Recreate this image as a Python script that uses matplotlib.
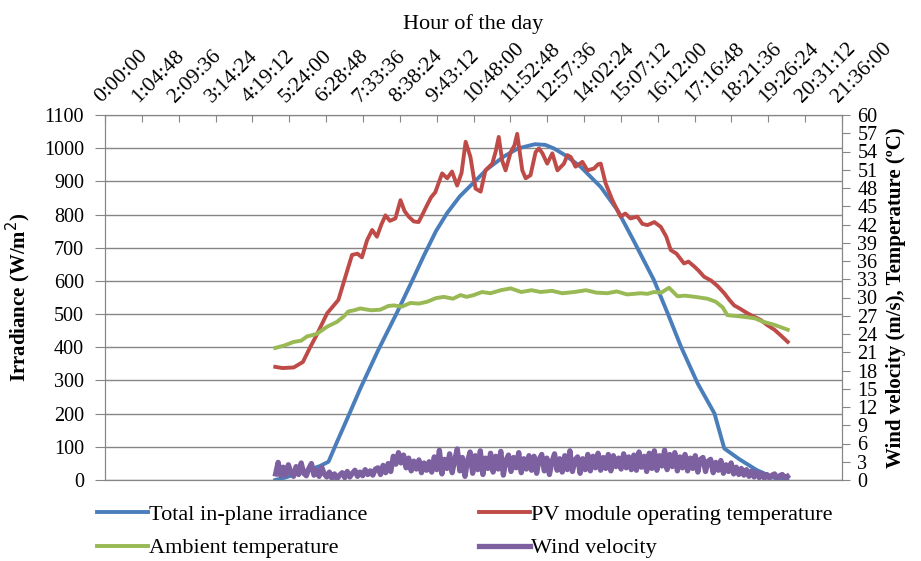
import matplotlib
matplotlib.use('Agg')
import matplotlib.pyplot as plt
import numpy as np

plt.rcParams['font.family'] = ['Liberation Serif', 'DejaVu Serif']

# horas do dia (eixo de cima)
tick_horas = [0, 1.08, 2.16, 3.24, 4.32, 5.4, 6.48, 7.56, 8.64, 9.72, 10.8,
              11.88, 12.96, 14.04, 15.12, 16.2, 17.28, 18.36, 19.44, 20.52, 21.6]
tick_labels = ['0:00:00', '1:04:48', '2:09:36', '3:14:24', '4:19:12', '5:24:00',
               '6:28:48', '7:33:36', '8:38:24', '9:43:12', '10:48:00', '11:52:48',
               '12:57:36', '14:02:24', '15:07:12', '16:12:00', '17:16:48', '18:21:36',
               '19:26:24', '20:31:12', '21:36:00']

# irradiancia total no plano (W/m2)
irr_h = [4.99, 5.3, 5.8, 6.3, 6.55, 6.8, 7.1, 7.48, 8.0, 8.56, 9.0, 9.34, 9.7,
         10.03, 10.4, 10.81, 11.2, 11.69, 12.1, 12.6, 12.9, 13.16, 13.5, 13.94,
         14.23, 14.53, 15.02, 15.5, 16.09, 16.5, 16.88, 17.37, 17.86, 18.0, 18.15,
         18.6, 19.1, 19.62, 20.0]
irr_v = [0, 8, 25, 42, 55, 115, 185, 275, 390, 505, 600, 675, 750,
         805, 855, 897, 937, 975, 999, 1012, 1010, 999, 978, 944,
         914, 883, 813, 720, 602, 500, 402, 291, 201, 150, 95,
         62, 30, 6, 5]

# temperatura do modulo PV (C)
pv_h = [4.99, 5.2, 5.53, 5.8, 6.02, 6.2, 6.51, 6.84, 7.05, 7.24, 7.4, 7.53, 7.68,
        7.83, 7.97, 8.1, 8.22, 8.35, 8.51, 8.66, 8.78, 8.90, 9.05, 9.19, 9.3,
        9.44, 9.56, 9.68, 9.88, 10.03, 10.17, 10.32, 10.45, 10.57, 10.71, 10.86,
        11.01, 11.15, 11.35, 11.45, 11.54, 11.64, 11.74, 11.89, 12.0, 12.08, 12.23,
        12.33, 12.47, 12.62, 12.72, 12.82, 12.96, 13.11, 13.26, 13.45, 13.55, 13.65,
        13.79, 13.99, 14.14, 14.33, 14.45, 14.53, 14.67, 14.87, 15.11, 15.25, 15.40,
        15.60, 15.75, 15.90, 16.1, 16.29, 16.45, 16.58, 16.75, 16.97, 17.1, 17.27,
        17.4, 17.56, 17.76, 17.95, 18.15, 18.3, 18.44, 18.6, 18.83, 19.0, 19.22,
        19.4, 19.62, 19.8, 20.01]
pv_v = [18.6, 18.4, 18.5, 19.4, 21.9, 23.8, 27.4, 29.6, 33.5, 37.0, 37.2, 36.6, 39.4,
        41.1, 40.0, 42.0, 43.5, 42.6, 43.0, 46.0, 44.2, 43.3, 42.5, 42.4, 43.6,
        45.2, 46.5, 47.3, 50.4, 49.6, 50.7, 48.4, 50.5, 55.6, 53.1, 47.9,
        47.4, 50.9, 52.0, 54.0, 56.4, 52.5, 50.9, 53.9, 55.0, 56.9, 50.9,
        49.6, 50.1, 53.9, 54.5, 53.7, 52.0, 53.7, 50.9, 52.0, 53.4, 53.1,
        51.5, 52.3, 50.9, 51.2, 51.9, 52.0, 48.8, 46.0, 43.3, 43.8, 43.0,
        43.3, 42.1, 41.9, 42.4, 41.6, 40.0, 37.8, 37.2, 35.6, 35.9, 35.1,
        34.4, 33.4, 32.8, 31.9, 30.7, 29.6, 28.7, 28.2, 27.4, 26.9, 26.3,
        25.5, 24.7, 23.8, 22.7]

# temperatura ambiente (C)
amb_h = [4.99, 5.25, 5.53, 5.75, 5.92, 6.2, 6.51, 6.80, 7.0, 7.13, 7.3, 7.48, 7.8,
         8.07, 8.3, 8.46, 8.7, 8.95, 9.2, 9.44, 9.7, 9.93, 10.2, 10.42, 10.6,
         10.81, 11.05, 11.30, 11.6, 11.89, 12.2, 12.5, 12.77, 13.1, 13.4, 13.75,
         14.1, 14.4, 14.72, 15.0, 15.3, 15.70, 15.9, 16.09, 16.3, 16.53, 16.78,
         17.0, 17.3, 17.66, 17.9, 18.1, 18.24, 18.6, 19.03, 19.3, 19.62, 20.01]
amb_v = [21.7, 22.1, 22.7, 22.9, 23.6, 24.0, 25.2, 26.0, 26.9, 27.7, 27.9, 28.2, 27.9,
         28.0, 28.6, 28.7, 28.5, 29.1, 29.0, 29.3, 29.9, 30.1, 29.8, 30.4, 30.1,
         30.4, 30.9, 30.7, 31.2, 31.5, 30.9, 31.2, 30.9, 31.1, 30.7, 30.9,
         31.2, 30.8, 30.7, 31.0, 30.5, 30.7, 30.6, 30.9, 30.8, 31.6, 30.2,
         30.3, 30.1, 29.8, 29.3, 28.4, 27.1, 26.9, 26.6, 26.0, 25.5, 24.7]

# velocidade do vento (m/s), uma leitura a cada 4,5 min de 5:00 ate 20:00
vento_v = [1.0, 2.9, 0.7, 2.1, 0.8, 2.5, 1.2, 0.6, 2.2, 0.9, 2.8, 1.1, 0.7, 1.9, 2.7, 0.8, 1.6, 0.6, 2.1, 1.0,
           0.5, 1.3, 0.3, 1.0, 0.2, 0.8, 1.2, 0.4, 1.4, 0.5, 1.1, 1.6, 0.6, 1.3, 0.7, 1.7, 0.9, 1.5, 0.8, 1.8,
           2.0, 0.9, 2.4, 1.2, 2.7, 1.4, 3.9, 2.6, 4.5, 2.8, 4.1, 2.0, 3.6, 1.5, 3.1, 1.8, 3.3, 1.2, 2.8, 1.6,
           3.0, 1.3, 3.8, 1.7, 4.9, 1.0, 3.4, 1.9, 4.3, 1.2, 3.3, 5.1, 1.5, 3.7, 0.6, 3.1, 4.6, 1.1, 4.0, 1.7,
           4.8, 0.9, 3.6, 1.9, 4.4, 1.3, 3.9, 1.8, 4.7, 0.8, 3.2, 4.1, 1.4, 3.7, 2.0, 4.5, 1.2, 3.5, 1.8, 4.0,
           1.6, 3.9, 1.1, 3.4, 4.2, 1.5, 3.6, 0.9, 3.0, 4.3, 1.6, 3.5, 1.3, 4.0, 1.7, 4.8, 1.4, 3.3, 3.8, 1.1,
           3.5, 1.7, 4.2, 1.5, 3.9, 2.0, 4.4, 1.6, 3.7, 1.9, 4.2, 1.5, 4.0, 2.2, 3.6, 1.8, 4.3, 2.0, 3.8, 1.7,
           4.1, 1.6, 4.6, 2.1, 3.9, 1.4, 4.4, 1.9, 4.8, 1.6, 4.0, 2.3, 4.9, 1.7, 4.2, 2.2, 4.5, 1.5, 3.8, 2.0,
           4.2, 1.5, 3.6, 1.9, 4.0, 1.3, 3.4, 3.7, 1.4, 3.1, 3.4, 1.2, 2.9, 1.6, 3.2, 1.1, 2.5, 1.4, 2.8, 1.0,
           2.1, 0.9, 1.9, 0.8, 1.7, 0.6, 1.5, 0.5, 1.3, 0.4, 1.1, 0.3, 0.9, 0.3, 0.8, 1.0, 0.2, 0.7, 0.9, 0.3, 0.6]
vento_h = np.linspace(5.0, 20.0, len(vento_v))

cinza = '#868686'
fig = plt.figure(figsize=(9.21, 5.61), dpi=100)
ax = fig.add_axes([105/921, 1-480/561, (842-105)/921, (480-115)/561])
ax2 = ax.twinx()

ax.plot(irr_h, irr_v, color='#4A7EBB', lw=2.8, label='Total in-plane irradiance')
ax2.plot(pv_h, pv_v, color='#BE4B48', lw=2.8, label='PV module operating temperature')
ax2.plot(amb_h, amb_v, color='#98B954', lw=2.8, label='Ambient temperature')
ax2.plot(vento_h, vento_v, color='#7D60A0', lw=3.8, label='Wind velocity')

ax.set_xlim(0, 21.6)
ax.set_ylim(0, 1100)
ax2.set_ylim(0, 60)
ax.set_yticks(range(0, 1101, 100))
ax2.set_yticks(range(0, 61, 3))
ax.grid(axis='y', color=cinza, lw=1)
ax.set_axisbelow(True)

ax.xaxis.tick_top()
ax.xaxis.set_label_position('top')
ax.set_xticks(tick_horas)
ax.set_xticklabels(tick_labels, rotation=45, ha='left', va='bottom', rotation_mode='anchor')
ax.set_xlabel('Hour of the day', fontsize=16, labelpad=7)

ax.tick_params(axis='x', direction='in', length=5, color=cinza, labelsize=15.5, pad=6)
ax.tick_params(axis='y', direction='out', length=7, color=cinza, labelsize=14.5, pad=8)
ax2.tick_params(axis='y', direction='out', length=6, color=cinza, labelsize=14.5, pad=5)

for a in (ax, ax2):
    for s in a.spines.values():
        s.set_color(cinza)

ax.set_ylabel('Irradiance (W/m$^2$)', fontsize=15, fontweight='bold', labelpad=8)
ax2.set_ylabel('Wind velocity (m/s), Temperature (ºC)', fontsize=15, fontweight='bold', labelpad=6)

h1, l1 = ax.get_legend_handles_labels()
h2, l2 = ax2.get_legend_handles_labels()
handles = [h1[0], h2[1], h2[0], h2[2]]
labels = [l1[0], l2[1], l2[0], l2[2]]
fig.legend(handles, labels, ncol=2, loc='upper left', bbox_to_anchor=(97/921, 1-504/561),
           frameon=False, fontsize=16, handlelength=2.3, handletextpad=0.05,
           columnspacing=5.0, labelspacing=0.6, borderpad=0, borderaxespad=0)

fig.savefig('out.png', dpi=100)
